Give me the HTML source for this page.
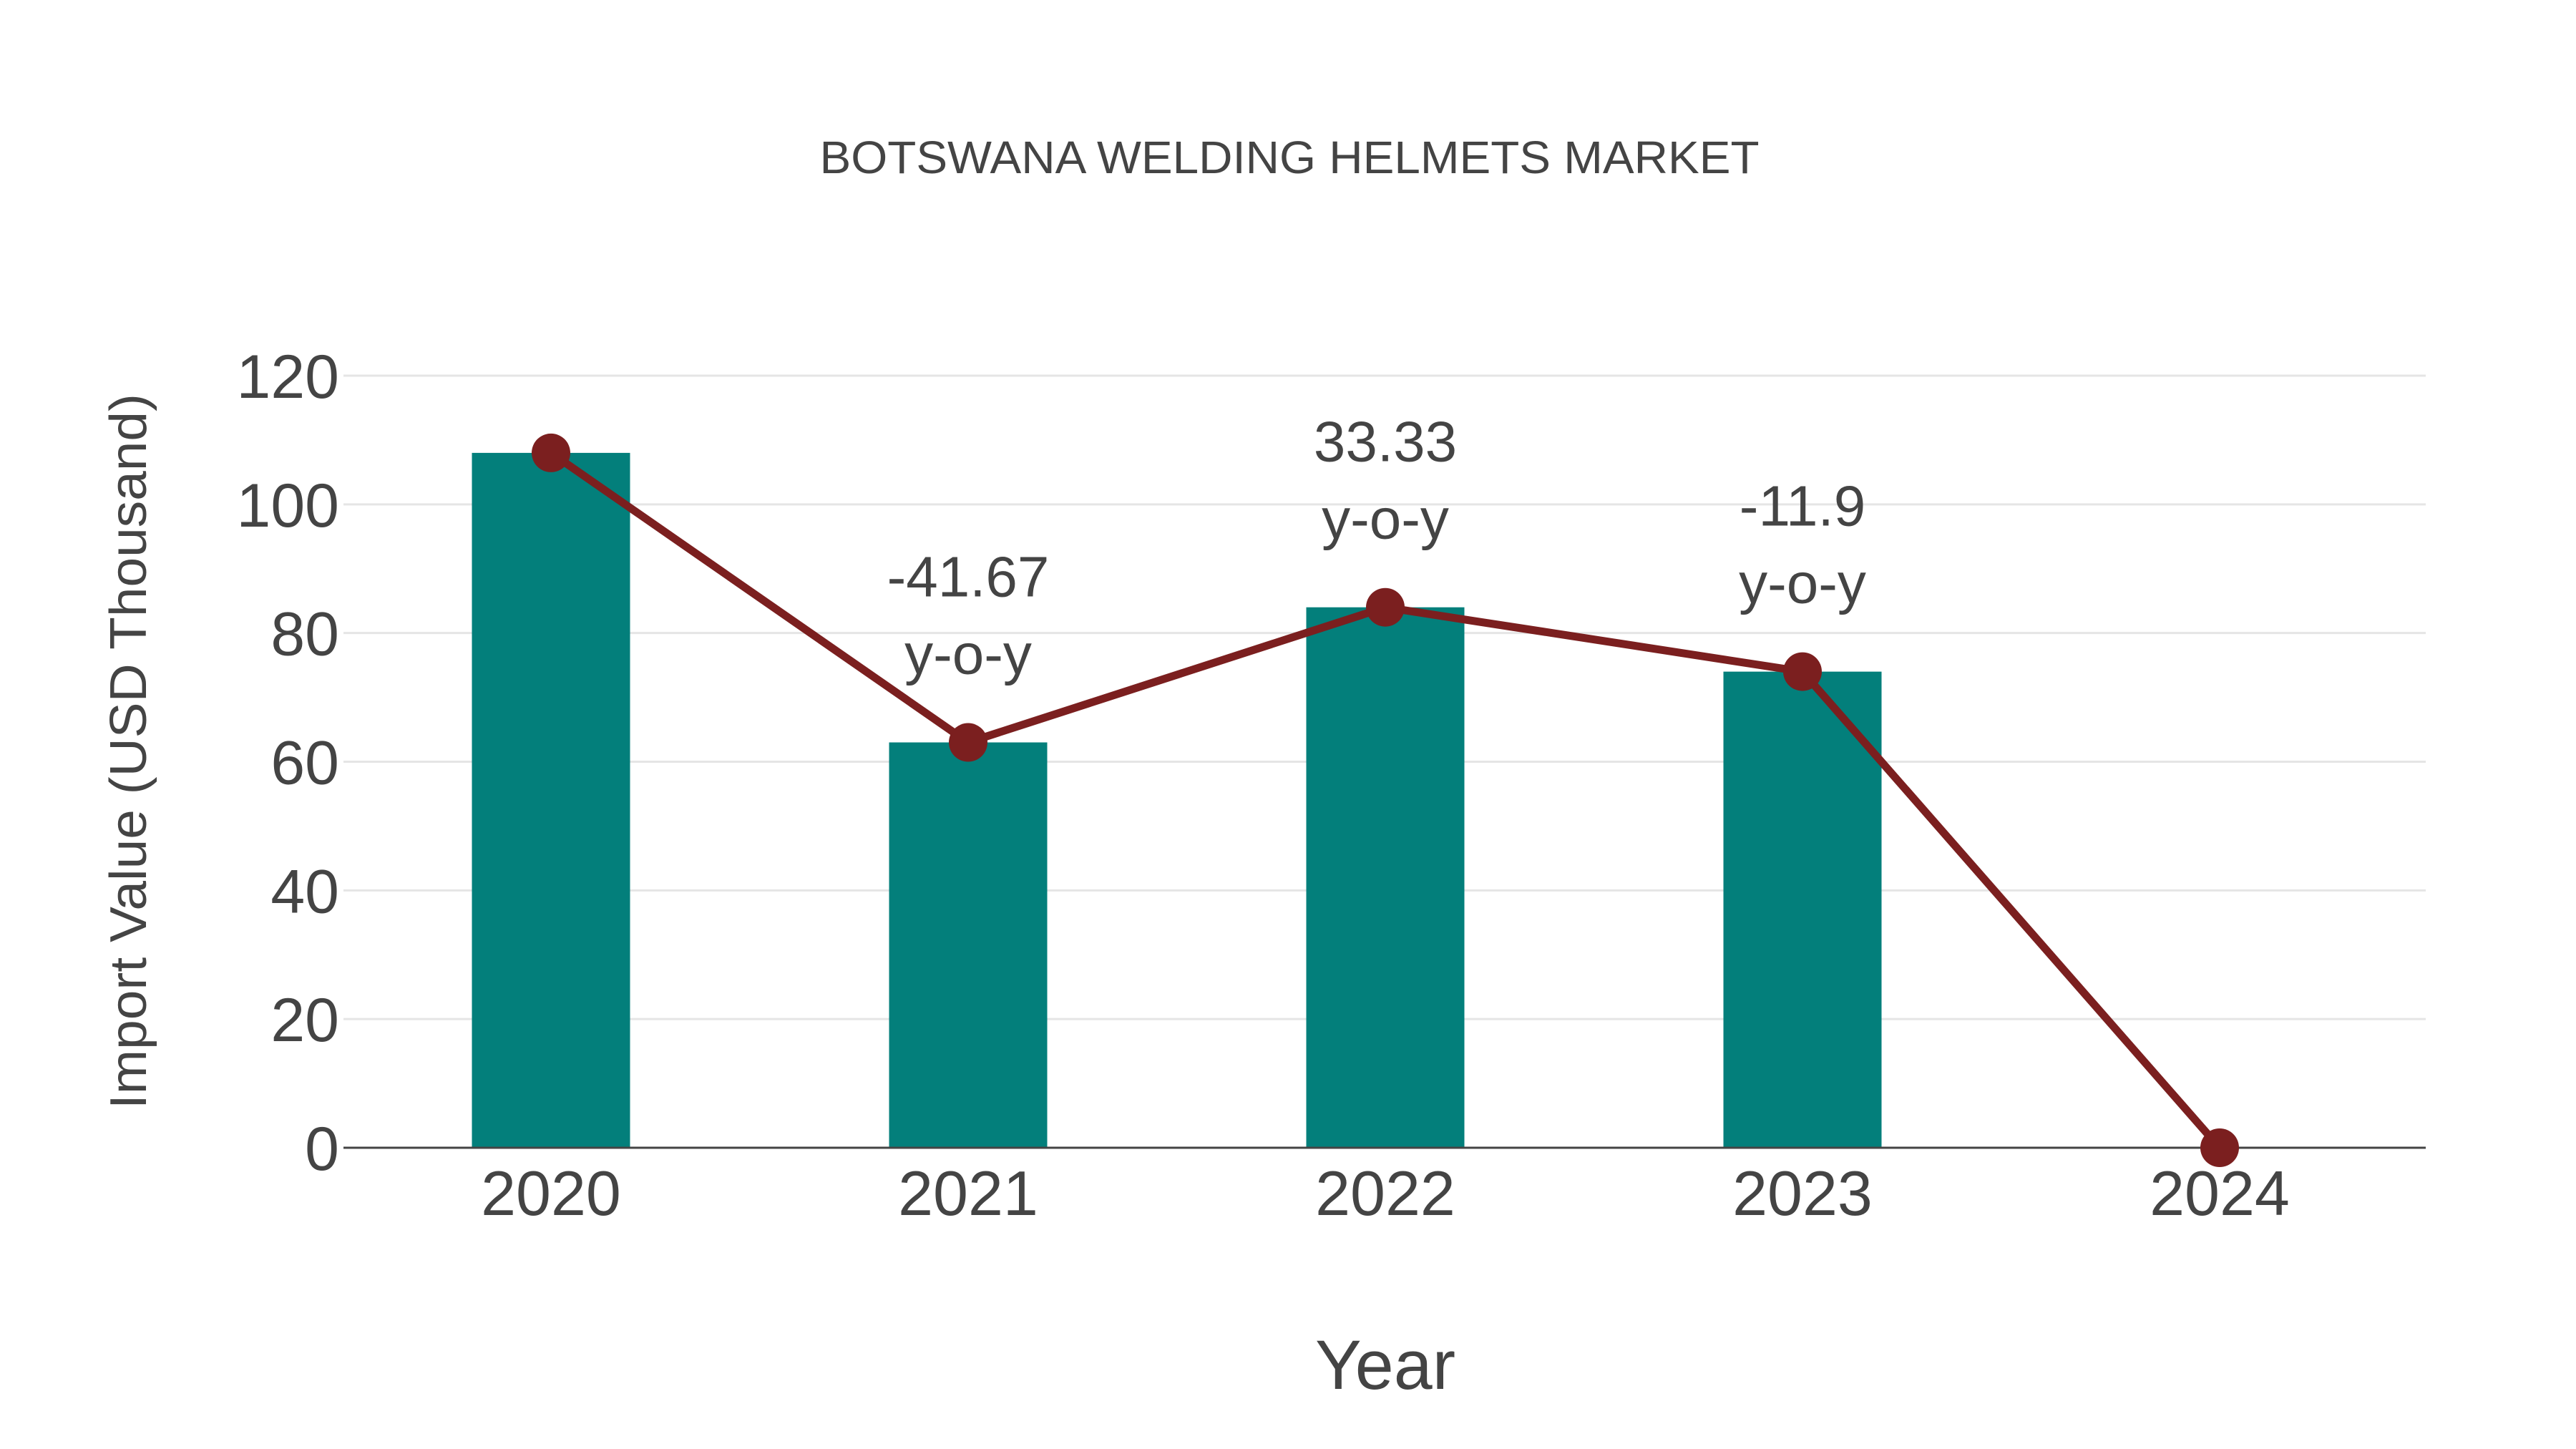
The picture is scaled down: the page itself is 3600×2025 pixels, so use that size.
<!DOCTYPE html>
<html><head><meta charset="utf-8"><style>
html,body{margin:0;padding:0;background:#fff}
svg{display:block;font-family:"Liberation Sans",sans-serif}
</style></head><body>
<svg id="chart" width="3600" height="2025" viewBox="0 0 3600 2025" xmlns="http://www.w3.org/2000/svg">
<rect x="0" y="0" width="3600" height="2025" fill="#fff"/>
<text x="1802" y="242" text-anchor="middle" font-size="64" fill="#444" textLength="1313" lengthAdjust="spacingAndGlyphs">BOTSWANA WELDING HELMETS MARKET</text>
<g id="grid"></g>
<g id="yticks"></g>
<g id="bars"></g>
<line x1="480" y1="1604" x2="3390" y2="1604" stroke="#444" stroke-width="3"/>
<g id="line"></g>
<g id="xticks"></g>
<g id="ann"></g>
<text x="1936" y="1941" text-anchor="middle" font-size="97" fill="#444">Year</text>
<text x="0" y="0" transform="translate(204,1050) rotate(-90)" text-anchor="middle" font-size="72" fill="#444" textLength="1000" lengthAdjust="spacingAndGlyphs">Import Value (USD Thousand)</text>
</svg>
<script>
const categories = ["2020","2021","2022","2023","2024"];
const barValues = [108, 63, 84, 74, 0];
const lineValues = [108, 63, 84, 74, 0];
const yoyLabels = [null, "-41.67", "33.33", "-11.9", null];
const yTicks = [0, 20, 40, 60, 80, 100, 120];

const NS = "http://www.w3.org/2000/svg";
const plotL = 480, plotR = 3390, y0 = 1604, yTop = 525, yMax = 120;
const step = 583, firstX = 770, barW = 221;
function xPos(i){ return firstX + i*step; }
function yPos(v){ return y0 - (v/yMax)*(y0 - yTop); }
function mk(tag, attrs, parent){ const e=document.createElementNS(NS,tag); for(const k in attrs) e.setAttribute(k,attrs[k]); parent.appendChild(e); return e; }

const grid=document.getElementById('grid'), yt=document.getElementById('yticks');
yTicks.forEach(t=>{
  if(t!==0){
    const g=mk('line',{x1:plotL,x2:plotR,y1:yPos(t),y2:yPos(t),stroke:'#e5e5e5','stroke-width':3},grid);
    
    
  }
  const l=mk('text',{x:474,y:yPos(t)+31,'text-anchor':'end','font-size':86,fill:'#444'},yt);
  l.textContent=t;
  
  
});

const bars=document.getElementById('bars'), xt=document.getElementById('xticks');
categories.forEach((c,i)=>{
  const v=barValues[i];
  if(v>0){
    const b=mk('rect',{x:xPos(i)-barW/2,y:yPos(v),width:barW,height:y0-yPos(v),fill:'#037f7b'},bars);
    
    
  }
  const l=mk('text',{x:xPos(i),y:1698,'text-anchor':'middle','font-size':88,fill:'#444'},xt);
  l.textContent=c;
  
  
});

const lg=document.getElementById('line');
const pts=lineValues.map((v,i)=>xPos(i)+','+yPos(v)).join(' ');
const pl=mk('polyline',{points:pts,fill:'none',stroke:'#7b1f1f','stroke-width':11,'stroke-linejoin':'round'},lg);


lineValues.forEach((v,i)=>{
  const c=mk('circle',{cx:xPos(i),cy:yPos(v),r:27,fill:'#7b1f1f'},lg);
  
  
});

const ann=document.getElementById('ann');
yoyLabels.forEach((s,i)=>{
  if(!s) return;
  const base=yPos(lineValues[i])-96;
  const t1=mk('text',{x:xPos(i),y:base-108,'text-anchor':'middle','font-size':80,fill:'#444'},ann);
  t1.textContent=s;
  
  
  const t2=mk('text',{x:xPos(i),y:base,'text-anchor':'middle','font-size':80,fill:'#444'},ann);
  t2.textContent='y-o-y';
  
  
});
</script>
</body></html>
